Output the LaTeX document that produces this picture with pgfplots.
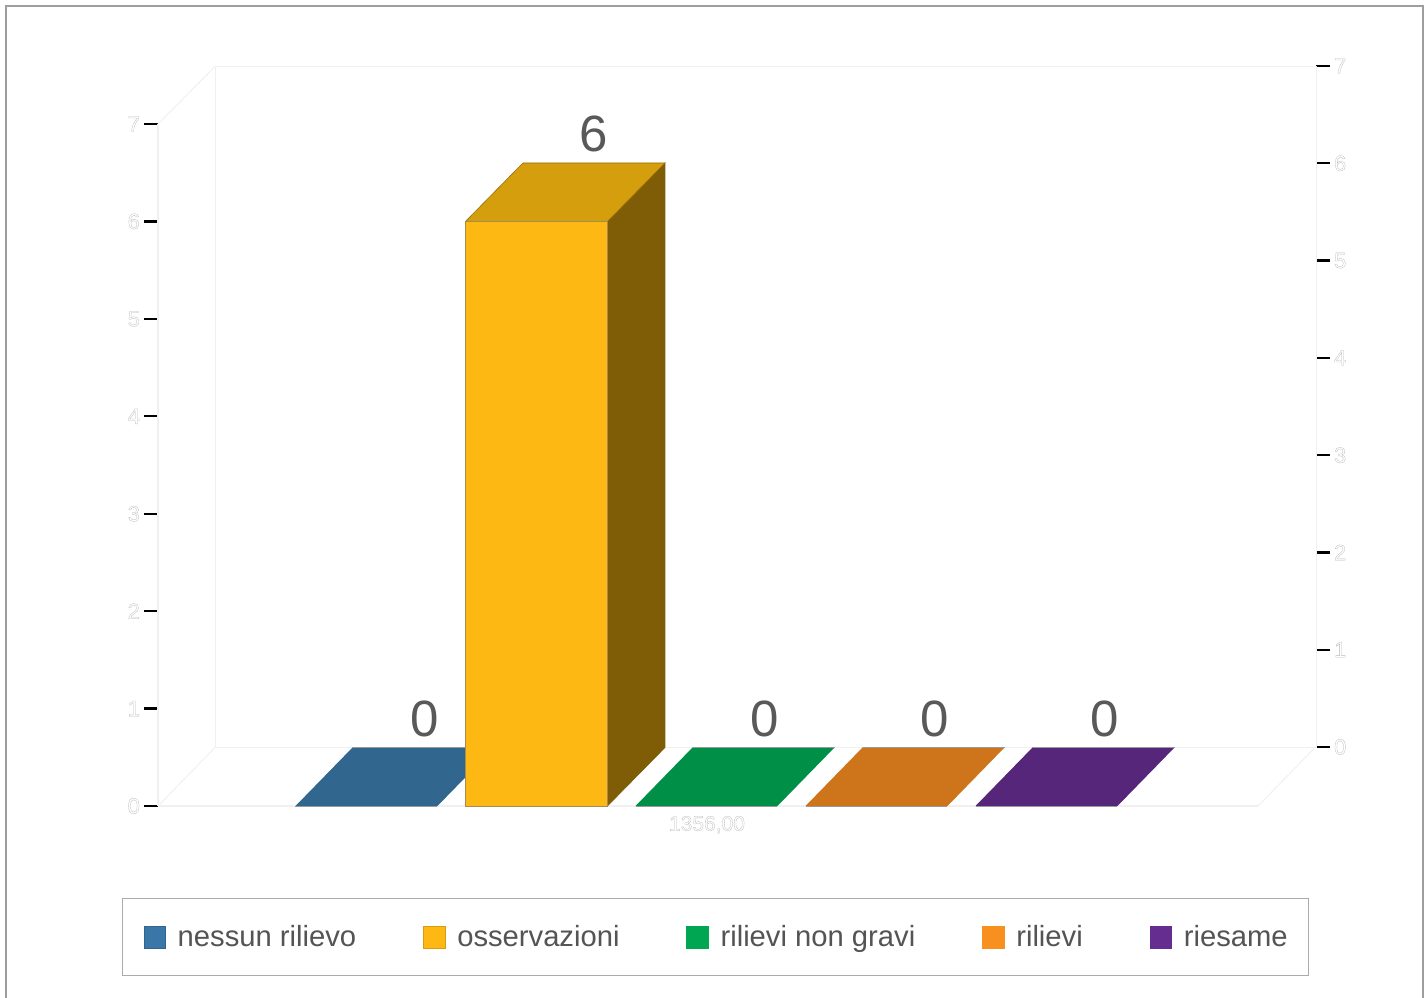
\documentclass[border=0pt]{standalone}
\usepackage{fontspec}
\setmainfont{Liberation Sans}
\usepackage{pgfplots}
\pgfplotsset{compat=1.18}
% hollow tick label text, stroked only
\newcommand{\outl}[1]{\special{pdf:code 1 Tr 0.15 w 0.72 G}#1\special{pdf:code 0 Tr}}
\definecolor{wall}{HTML}{F0F0F0}
\definecolor{blueT}{HTML}{31678F}
\definecolor{blueL}{HTML}{3A76A8}
\definecolor{goldF}{HTML}{FDB813}
\definecolor{goldT}{HTML}{D49E0D}
\definecolor{goldS}{HTML}{7F5C06}
\definecolor{greenT}{HTML}{008F47}
\definecolor{greenL}{HTML}{00A651}
\definecolor{orangeT}{HTML}{CE741A}
\definecolor{orangeL}{HTML}{F7901E}
\definecolor{purpleT}{HTML}{55267A}
\definecolor{purpleL}{HTML}{662D91}
\pgfplotsset{
  ticksy/.style={
    tick align=outside,
    major tick length=7pt,
    tick style={black,line width=1.2pt},
    ymin=0, ymax=7, ytick={0,1,...,7},
    yticklabel={\outl{\pgfmathprintnumber{\tick}}},
    /pgf/number format/assume math mode=true,
    yticklabel style={font=\fontsize{11}{12}\selectfont},
  },
}
\begin{document}
\begin{tikzpicture}[x=1pt,y=1pt]
\useasboundingbox (0,0) rectangle (712,498.5);
\draw[color=black!38,line width=1pt] (3,-5) -- (3,495.5) -- (711.7,495.5) -- (711.7,-5);

% back wall
\begin{axis}[
  at={(107.5pt,125pt)}, anchor=south west,
  scale only axis, width=550.5pt, height=340.5pt,
  ticksy,
  xmin=0, xmax=1, xtick=\empty,
  ytick pos=right,
  axis line style={wall,line width=0.5pt},
  yticklabel style={xshift=-1.5pt},
]
\end{axis}

% front plane, x in category units
\begin{axis}[
  at={(79pt,95.5pt)}, anchor=south west,
  scale only axis, width=550pt, height=341pt,
  ticksy,
  clip=false,
  xmin=-1.2294, xmax=5.2412,
  xtick={2}, xticklabels={\outl{1356,00}},
  x tick style={draw=none},
  x tick label style={font=\fontsize{10.5}{12}\selectfont,yshift=5.5pt},
  axis x line*=bottom, axis y line*=left,
  axis line style={wall,line width=1pt,-},
  ytick pos=left,
  yticklabel style={xshift=1.5pt},
  unbounded coords=jump,
  legend columns=5,
  legend image code/.code={\draw[#1] (0pt,-5.4pt) rectangle (10.8pt,5.4pt);},
  legend style={
    at={(axis description cs:-0.0327,-0.2495)}, anchor=south west,
    draw=black!33, line width=0.5pt,
    inner xsep=10.5pt, inner ysep=11.25pt,
    nodes={inner xsep=0pt},
    font=\fontsize{14.6}{18}\selectfont,
    text=black!67,
    /tikz/every odd column/.append style={column sep=6pt},
    /tikz/every even column/.append style={column sep=33.4pt},
  },
]
% floor edges
\addplot[wall,line width=0.5pt,forget plot] coordinates {(-1.2294,0) (-0.8914,0.605)};
\addplot[wall,line width=0.5pt,forget plot] coordinates {(-1.2294,7) (-0.8914,7.595)};
\addplot[wall,line width=0.5pt,forget plot] coordinates {(5.2412,0) (5.5792,0.605)};

% value 0, only the top face shows
\addplot[fill=blueT,draw=none,forget plot] coordinates {(-0.4206,0) (0.4146,0) (0.7526,0.605) (-0.0826,0.605)} --cycle;
\addplot[fill=greenT,draw=none,forget plot] coordinates {(1.5794,0) (2.4146,0) (2.7526,0.605) (1.9174,0.605)} --cycle;
\addplot[fill=orangeT,draw=none,forget plot] coordinates {(2.5794,0) (3.4146,0) (3.7526,0.605) (2.9174,0.605)} --cycle;
\addplot[fill=purpleT,draw=none,forget plot] coordinates {(3.5794,0) (4.4146,0) (4.7526,0.605) (3.9174,0.605)} --cycle;
\addplot[black!40,line width=0.5pt,forget plot] coordinates {
  (-0.4206,0) (0.4146,0) (0,nan) (-0.0826,0.605) (0.7526,0.605) (0,nan)
  (1.5794,0) (2.4146,0) (0,nan) (1.9174,0.605) (2.7526,0.605) (0,nan)
  (2.5794,0) (3.4146,0) (0,nan) (2.9174,0.605) (3.7526,0.605) (0,nan)
  (3.5794,0) (4.4146,0) (0,nan) (3.9174,0.605) (4.7526,0.605)};

% value 6
\addplot[fill=goldS,draw=goldS,line width=0.3pt,forget plot] coordinates {(1.4146,0) (1.7526,0.6) (1.7526,6.6) (1.4146,6)} --cycle;
\addplot[fill=goldT,draw=goldS!80!goldF,line width=0.3pt,forget plot] coordinates {(0.5794,6) (1.4146,6) (1.7526,6.6) (0.9174,6.6)} --cycle;
\addplot[fill=goldF,draw=goldS!70,line width=0.3pt,forget plot] coordinates {(0.5794,0) (1.4146,0) (1.4146,6) (0.5794,6)} --cycle;

% value labels
\addplot[draw=none,mark=none,forget plot,
  point meta=explicit symbolic,
  nodes near coords,
  nodes near coords style={anchor=center,inner sep=0pt,text=black!65,font=\fontsize{25.5}{28}\selectfont},
] coordinates {(0.34,0.89)[0] (1.335,6.90)[6] (2.34,0.89)[0] (3.34,0.89)[0] (4.34,0.89)[0]};

\addlegendimage{fill=blueL,draw=blueL!85!black,line width=0.3pt}
\addlegendentry{nessun rilievo}
\addlegendimage{fill=goldF,draw=goldF!85!black,line width=0.3pt}
\addlegendentry{osservazioni}
\addlegendimage{fill=greenL,draw=greenL,line width=0.3pt}
\addlegendentry{rilievi non gravi}
\addlegendimage{fill=orangeL,draw=orangeL,line width=0.3pt}
\addlegendentry{rilievi}
\addlegendimage{fill=purpleL,draw=purpleL,line width=0.3pt}
\addlegendentry{riesame}
\end{axis}
\end{tikzpicture}
\end{document}
